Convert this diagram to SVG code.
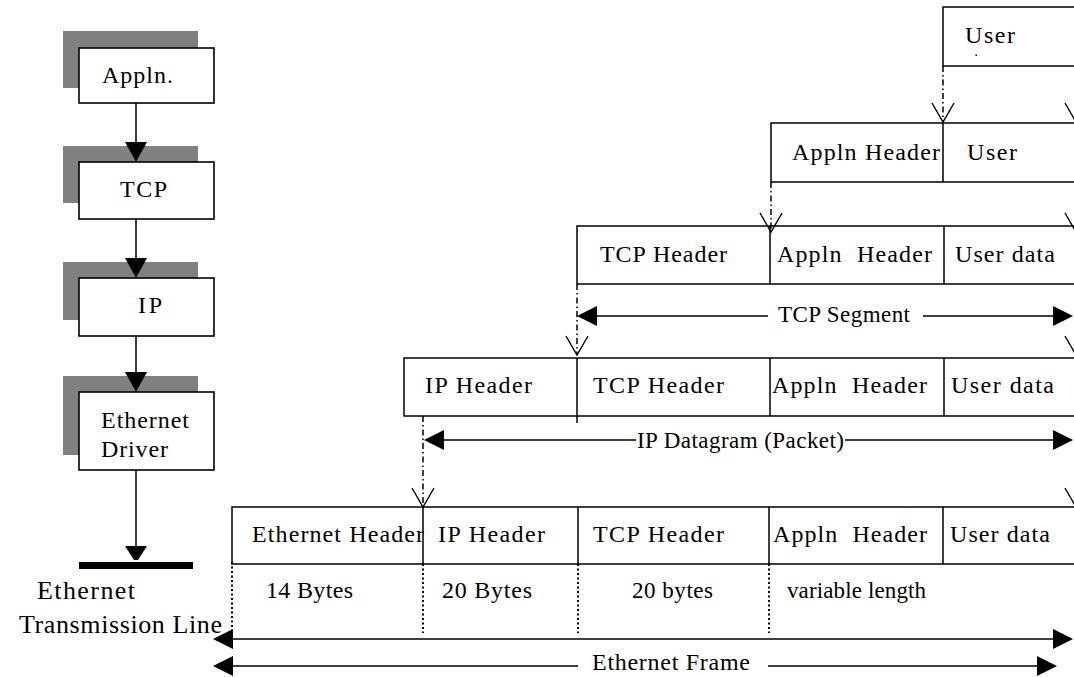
<svg xmlns="http://www.w3.org/2000/svg" width="1074" height="677" viewBox="0 0 1074 677">
<defs>
<style>
.box{fill:#fff;stroke:#000;stroke-width:1.6}
.shadow{fill:#808080}
.t{font-family:"Liberation Serif","Times New Roman",serif;font-size:24px;fill:#000}
.big{font-size:26px}
.md{font-size:23px}
.ln{stroke:#000;stroke-width:1.5;fill:none}
.dd{stroke:#000;stroke-width:1.5;fill:none;stroke-dasharray:6 3 1.5 3}
.dot{stroke:#000;stroke-width:2;fill:none;stroke-dasharray:2 2.5}
.v{stroke:#000;stroke-width:1.4;fill:none}
.ah{fill:#000}
</style>
</defs>
<rect x="0" y="0" width="1074" height="677" fill="#fff"/>

<!-- Left protocol stack -->
<g id="appln">
<rect class="shadow" x="63" y="31" width="135" height="57"/>
<rect class="box" x="79" y="48" width="135" height="55"/>
<text class="t" x="102" y="83" textLength="71" lengthAdjust="spacing">Appln.</text>
</g>
<g id="tcp">
<rect class="shadow" x="63" y="146" width="135" height="57"/>
<rect class="box" x="79" y="162" width="135" height="57"/>
<text class="t" x="120" y="197" textLength="47" lengthAdjust="spacing">TCP</text>
</g>
<g id="ip">
<rect class="shadow" x="63" y="262" width="135" height="58"/>
<rect class="box" x="79" y="278" width="135" height="58"/>
<text class="t" x="138" y="313" textLength="24" lengthAdjust="spacing">IP</text>
</g>
<g id="driver">
<rect class="shadow" x="63" y="376" width="135" height="79"/>
<rect class="box" x="79" y="392" width="135" height="78"/>
<text class="t" x="101" y="428" textLength="88" lengthAdjust="spacing">Ethernet</text>
<text class="t" x="101" y="457" textLength="67" lengthAdjust="spacing">Driver</text>
</g>
<g id="transmission-line">
<rect x="79" y="562" width="114" height="7" fill="#000"/>
<text class="t big" x="37" y="599" textLength="98" lengthAdjust="spacing">Ethernet</text>
<text class="t big" x="19" y="633" textLength="203" lengthAdjust="spacing">Transmission Line</text>
</g>

<!-- Right encapsulation rows -->
<g id="row-user">
<path class="ln" d="M1074,7 H943 V66 H1074"/>
<text class="t" x="965" y="43" textLength="50" lengthAdjust="spacing">User</text>
<rect x="975.5" y="54.5" width="1.5" height="1.5" fill="#000"/>
</g>
<g id="row-appln">
<path class="ln" d="M1074,123 H771 V182 H1074 M943,123 V182"/>
<text class="t" x="792" y="160" textLength="148" lengthAdjust="spacing">Appln Header</text>
<text class="t" x="967" y="160" textLength="50" lengthAdjust="spacing">User</text>
</g>
<g id="row-tcp">
<path class="ln" d="M1074,226 H577 V284 H1074 M770,226 V284 M944,226 V284"/>
<text class="t" x="600" y="262" textLength="127" lengthAdjust="spacing">TCP Header</text>
<text class="t" x="777" y="262" textLength="155" lengthAdjust="spacing" xml:space="preserve">Appln  Header</text>
<text class="t" x="955" y="262" textLength="100" lengthAdjust="spacing">User data</text>
</g>
<g id="row-ip">
<path class="ln" d="M1074,358 H404 V416 H1074 M577,358 V423 M770,358 V416 M944,358 V416"/>
<text class="t" x="425" y="393" textLength="107" lengthAdjust="spacing">IP Header</text>
<text class="t" x="593" y="393" textLength="131" lengthAdjust="spacing">TCP Header</text>
<text class="t" x="772" y="393" textLength="155" lengthAdjust="spacing" xml:space="preserve">Appln  Header</text>
<text class="t" x="951" y="393" textLength="103" lengthAdjust="spacing">User data</text>
</g>
<g id="row-ethernet">
<path class="ln" d="M1074,507 H232 V564 H1074 M423,507 V564 M578,507 V564 M769,507 V564 M943,507 V564"/>
<text class="t" x="252" y="542" textLength="172" lengthAdjust="spacing">Ethernet Header</text>
<text class="t" x="438" y="542" textLength="107" lengthAdjust="spacing">IP Header</text>
<text class="t" x="593" y="542" textLength="131" lengthAdjust="spacing">TCP Header</text>
<text class="t" x="773" y="542" textLength="154" lengthAdjust="spacing" xml:space="preserve">Appln  Header</text>
<text class="t" x="950" y="542" textLength="100" lengthAdjust="spacing">User data</text>
<text class="t" x="266" y="598" textLength="87" lengthAdjust="spacing">14 Bytes</text>
<text class="t" x="442" y="598" textLength="90" lengthAdjust="spacing">20 Bytes</text>
<text class="t md" x="632" y="598" textLength="81" lengthAdjust="spacing">20 bytes</text>
<text class="t md" x="787" y="598" textLength="139" lengthAdjust="spacing">variable length</text>
</g>

<!-- Connectors -->
<g id="connectors">
<path class="ln" d="M136,103 V142 M136,219 V258 M136,336 V372 M136,470 V546"/>
<path class="ah" d="M125,142 H147 L136,162 Z M125,258 H147 L136,278 Z M125,372 H147 L136,392 Z M125,546 H147 L138,560 H134 Z"/>

<path class="dd" d="M943,66 V122 M1076,66 V122 M771,182 V232 M1076,182 V232 M577,284 V355 M1076,284 V355 M423,416 V507 M1076,416 V507"/>
<path class="v" d="M932,103 L943,122 L954,103 M1065,103 L1076,122 L1087,103 M760,213 L771,232 L782,213 M1065,213 L1076,232 L1087,213 M566,336 L577,355 L588,336 M1065,336 L1076,355 L1087,336 M412,488 L423,507 L434,488 M1065,488 L1076,507 L1087,488"/>

<path class="dot" d="M232,562 V630 M423,564 V633 M578,564 V633 M769,564 V633"/>

<path class="ln" d="M596,316 H768 M923,316 H1054 M442,440 H636 M845,440 H1054 M232,639 H1054 M232,666 H578 M768,666 H1038"/>
<path class="ah" d="M577,316 L597,306 V326 Z M1073,316 L1053,306 V326 Z M424,440 L444,430 V450 Z M1073,440 L1053,430 V450 Z M213,639 L233,629 V649 Z M1073,639 L1053,629 V649 Z M213,666 L233,656 V676 Z M1057,666 L1037,656 V676 Z"/>
<text class="t md" x="778" y="322" textLength="132" lengthAdjust="spacing">TCP Segment</text>
<text class="t md" x="637" y="448" textLength="207" lengthAdjust="spacing">IP Datagram (Packet)</text>
<text class="t" x="592" y="670" textLength="158" lengthAdjust="spacing">Ethernet Frame</text>
</g>
</svg>
